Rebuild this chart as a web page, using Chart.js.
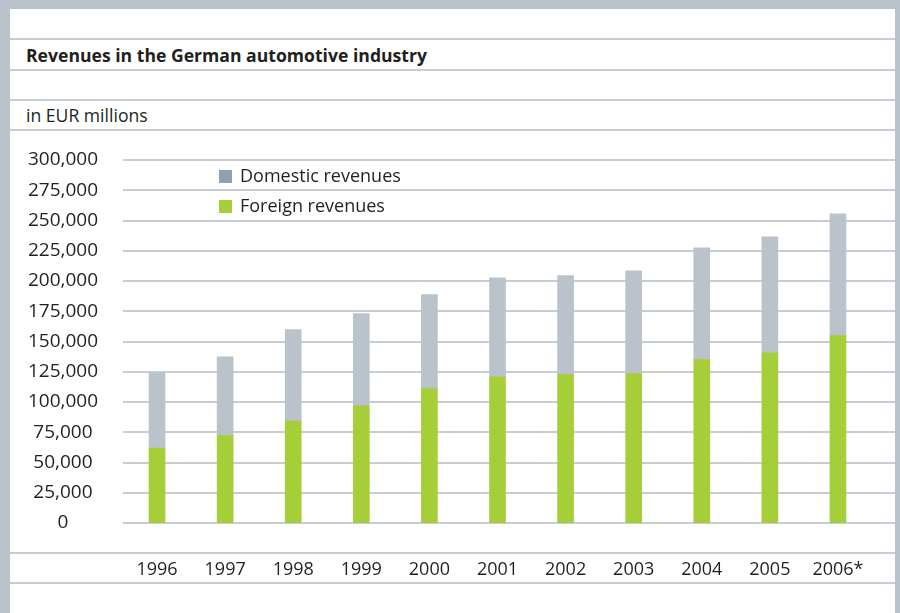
<!DOCTYPE html>
<html>
<head>
<meta charset="utf-8">
<script src="https://cdn.jsdelivr.net/npm/chart.js@4/dist/chart.umd.min.js"></script>
<style>
  html, body { margin: 0; padding: 0; }
  body { width: 900px; height: 613px; background: #bac2cc; position: relative; overflow: hidden;
         font-family: "Open Sans", "Noto Sans", sans-serif; color: #231f20; }
  #panel { position: absolute; left: 10px; top: 9px; width: 885px; height: 604px; background: #fff; }
  .rule { position: absolute; left: 10px; width: 885px; height: 2px; background: #c7cdd5; }
  .txt { position: absolute; left: 26px; font-size: 17.6px; line-height: 20px; white-space: nowrap; }
  #title { top: 45px; font-weight: bold; }
  #unit { top: 105px; }
  #chartWrap { position: absolute; left: 0; top: 0; width: 900px; height: 613px; }
  .leg { position: absolute; left: 219px; font-size: 18px; line-height: 20px; white-space: nowrap; }
  .leg span { display: inline-block; width: 13px; height: 13px; margin-right: 8px; vertical-align: -1px; }
</style>
</head>
<body>
<div id="panel"></div>
<div class="rule" style="top:38px"></div>
<div class="rule" style="top:69px"></div>
<div class="rule" style="top:99px"></div>
<div class="rule" style="top:129px"></div>
<div class="rule" style="top:552px"></div>
<div class="rule" style="top:582px"></div>
<div id="title" class="txt">Revenues in the German automotive industry</div>
<div id="unit" class="txt">in EUR millions</div>
<div id="chartWrap"><canvas id="chart" width="900" height="613"></canvas></div>
<div class="leg" style="top:165px"><span style="background:#8fa1af"></span>Domestic revenues</div>
<div class="leg" style="top:195px"><span style="background:#a6ce39"></span>Foreign revenues</div>

<script>
// ===========================
// Data (EUR millions)
// ===========================
const years = ["1996","1997","1998","1999","2000","2001","2002","2003","2004","2005","2006*"];
const foreign = [62000, 72200, 84500, 96900, 111000, 120900, 122600, 123400, 135000, 140700, 154800];
const domestic = [62300, 65200, 75300, 76100, 77700, 81800, 81800, 85100, 92500, 95900, 100800];
const yMax = 300000;
const yStep = 25000;

// grid lines drawn from the y scale, running out to the panel edge
const gridPlugin = {
  id: "wideGrid",
  beforeDatasetsDraw(chart){
    const ctx = chart.ctx, y = chart.scales.y, left = chart.chartArea.left;
    ctx.save();
    ctx.strokeStyle = "#c7cdd5";
    ctx.lineWidth = 2;
    y.ticks.forEach(t=>{
      const py = Math.round(y.getPixelForValue(t.value));
      ctx.beginPath();
      ctx.moveTo(left, py);
      ctx.lineTo(895, py);
      ctx.stroke();
    });
    ctx.restore();
  }
};

new Chart(document.getElementById("chart"), {
  type: "bar",
  data: {
    labels: years,
    datasets: [
      {label: "Foreign revenues", data: foreign, backgroundColor: "#a6ce39", barThickness: 16},
      {label: "Domestic revenues", data: domestic, backgroundColor: "#bac2cc", barThickness: 16}
    ]
  },
  options: {
    responsive: false,
    animation: false,
    layout: {padding: {left: 0, right: 28, top: 160, bottom: 30}},
    plugins: {legend: {display: false}, tooltip: {enabled: false}},
    scales: {
      x: {
        stacked: true,
        grid: {display: false},
        border: {display: false},
        ticks: {color: "#231f20", padding: 28, font: {family: "Open Sans", size: 18}, maxRotation: 0},
        afterFit: s => { s.height = 60; }
      },
      y: {
        stacked: true,
        min: 0, max: yMax,
        grid: {display: false, drawTicks: false},
        border: {display: false},
        ticks: {
          stepSize: yStep,
          crossAlign: "center",
          padding: 25,
          color: "#231f20",
          font: {family: "Open Sans", size: 19},
          callback: v => v.toLocaleString("en-US")
        },
        afterFit: s => { s.width = 123; }
      }
    }
  },
  plugins: [gridPlugin]
});
</script>
</body>
</html>
